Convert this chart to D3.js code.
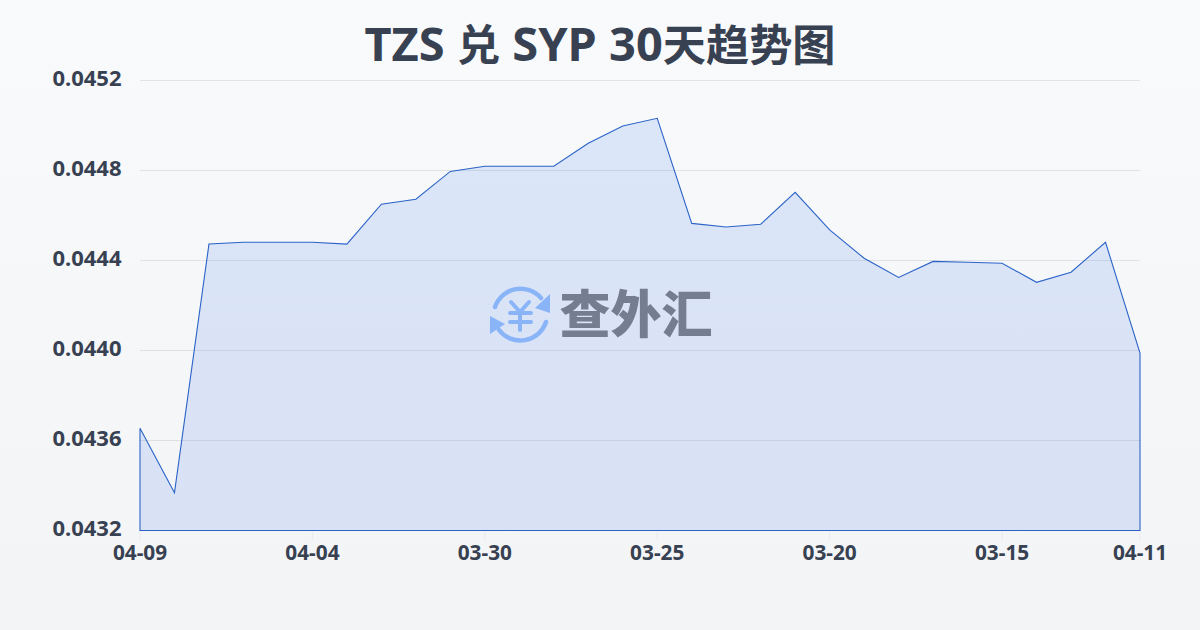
<!DOCTYPE html>
<html><head><meta charset="utf-8">
<script src="https://cdn.jsdelivr.net/npm/d3@7/dist/d3.min.js"></script>
<style>html,body{margin:0;padding:0;background:#f8fafc}svg{display:block}</style>
</head><body><svg id="c" width="1200" height="630"></svg>
<script>
const titleRuns = [["TZS ",47],["兑",43.2],[" SYP 30",47],["天趋势图",43.2]];
const dates = ["04-09","04-08","04-07","04-06","04-05","04-04","04-03","04-02","04-01","03-31","03-30","03-29","03-28","03-27","03-26","03-25","03-24","03-23","03-22","03-21","03-20","03-19","03-18","03-17","03-16","03-15","03-14","03-13","03-12","04-11"];
const rates = [0.043654,0.043368,0.044473,0.044481,0.044481,0.044481,0.044473,0.04465,0.044672,0.044796,0.044819,0.044819,0.044819,0.044921,0.044998,0.045032,0.044565,0.044549,0.044561,0.044703,0.044536,0.04441,0.044325,0.044396,0.044392,0.044388,0.044303,0.044348,0.044481,0.043988];
const xTickLabels = ["04-09","04-04","03-30","03-25","03-20","03-15","04-11"];
const xTickIndex = [0,5,10,15,20,25,29];
const yTicks = [0.0432,0.0436,0.0440,0.0444,0.0448,0.0452];

const svg = d3.select("#c");
const defs = svg.append("defs");
const bg = defs.append("linearGradient").attr("id","bg").attr("x1",0).attr("y1",0).attr("x2",0).attr("y2",1);
bg.append("stop").attr("offset",0).attr("stop-color","#f8fafc");
bg.append("stop").attr("offset",1).attr("stop-color","#f3f4f6");
const ag = defs.append("linearGradient").attr("id","ag").attr("x1",0).attr("y1",0).attr("x2",0).attr("y2",1);
ag.append("stop").attr("offset",0).attr("stop-color","#dbe6f8");
ag.append("stop").attr("offset",1).attr("stop-color","#d9e1f5");
svg.append("rect").attr("width",1200).attr("height",630).attr("fill","url(#bg)");

const x = d3.scaleLinear().domain([0,dates.length-1]).range([140,1140]);
const y = d3.scaleLinear().domain([0.0432,0.0452]).range([530.5,80.5]);
const font = "'Noto Sans','Noto Sans CJK SC',sans-serif";

const title = svg.append("text").attr("x",600).attr("y",60.5).attr("text-anchor","middle")
  .attr("font-family",font).attr("font-weight",700).attr("fill","#374151").attr("xml:space","preserve").style("white-space","pre");
title.selectAll("tspan").data(titleRuns).join("tspan").attr("font-size",d=>d[1]).text(d=>d[0]);

const area = d3.area().x((d,i)=>x(i)).y0(y(0.0432)).y1(d=>y(d));
svg.append("path").datum(rates).attr("d",area).attr("fill","url(#ag)");

const yAxis = d3.axisLeft(y).tickValues(yTicks).tickSize(0).tickPadding(18.5).offset(0).tickFormat(d3.format(".4f"));
const gy = svg.append("g").attr("transform","translate(140,0)").call(yAxis);
gy.select(".domain").remove();
gy.selectAll("line").attr("x2",1000).attr("stroke","#64748b").attr("stroke-opacity",0.16).attr("stroke-width",1);
gy.selectAll("text").attr("font-family",font).attr("font-weight",700).attr("font-size",22).attr("fill","#374151").attr("dy","5px");

const xAxis = d3.axisBottom(x).tickValues(xTickIndex).tickSize(10).tickPadding(5).offset(0).tickFormat((d)=>xTickLabels[xTickIndex.indexOf(d)]);
const gx = svg.append("g").attr("transform","translate(0,530.5)").call(xAxis);
gx.select(".domain").remove();
gx.selectAll("line").attr("stroke","#e5e7eb").attr("stroke-opacity",0.7);
gx.selectAll("text").attr("font-family",font).attr("font-weight",700).attr("font-size",20.8).attr("fill","#374151").attr("dy","0.71em");

const outline = d3.line().x(p=>x(p[0])).y(p=>y(p[1]));
const pts = rates.map((d,i)=>[i,d]);
svg.append("path").attr("d",outline([[0,0.0432],...pts,[rates.length-1,0.0432]])+"Z").attr("fill","none").attr("stroke","#2b63c8").attr("stroke-width",1.1).attr("stroke-linejoin","miter");

// watermark
const wm = svg.append("g");
const logo = wm.append("g").attr("transform","translate(520,315)").attr("fill","none").attr("stroke","#8ab4f8").attr("stroke-linecap","round");
logo.append("path").attr("d","M-25 -8 A27 27 0 0 1 21 -17").attr("stroke-width",4.5);
logo.append("path").attr("d","M26 7 A27 27 0 0 1 -21 15").attr("stroke-width",4.5);
logo.append("path").attr("d","M30 -21 L30 -2 L15 -7 Z").attr("fill","#8ab4f8").attr("stroke","none");
logo.append("path").attr("d","M-30 1 L-30 19 L-15 9 Z").attr("fill","#8ab4f8").attr("stroke","none");
logo.append("path").attr("d","M-9 -13 L0 -3 L9 -13 M-10 -2 H11 M-10 7 H11 M0 -3 V15").attr("stroke-width",4);
wm.append("text").attr("x",636).attr("y",333).attr("text-anchor","middle").attr("font-family","'Noto Sans CJK SC',sans-serif").attr("font-weight",900).attr("font-size",51).attr("fill","#747e90").text("查外汇");
</script></body></html>
